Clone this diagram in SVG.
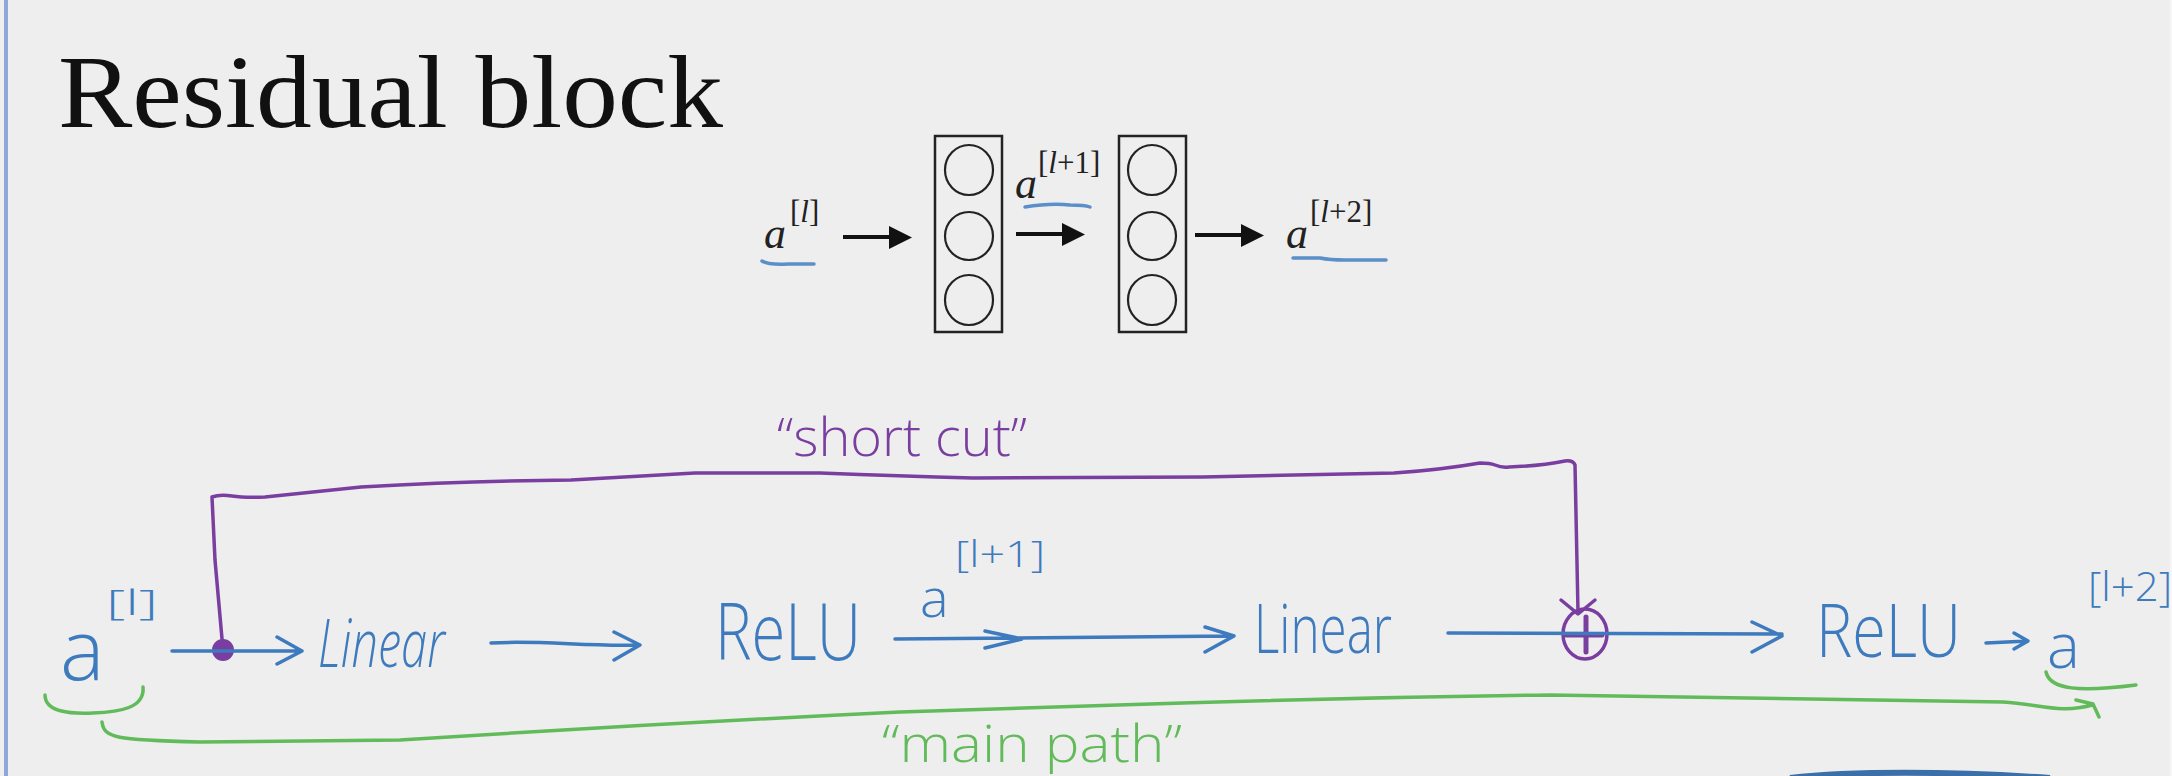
<svg xmlns="http://www.w3.org/2000/svg" width="2172" height="776" viewBox="0 0 2172 776">
<defs>
<style>
.hand{fill:none;stroke-linecap:round;stroke-linejoin:round}
.blue{stroke:#3e7abe;stroke-width:3.5}
.purple{stroke:#7a3ea0;stroke-width:3.5}
.green{stroke:#62bb5a;stroke-width:3.5}
.blk{stroke:#111;stroke-width:4;fill:none}
.head{fill:#111}
.box{fill:none;stroke:#222;stroke-width:2.5}
.neuron{fill:none;stroke:#222;stroke-width:2.2}
.math{font-family:"Liberation Serif",serif;fill:#222}
.ul{fill:none;stroke:#5a8fc8;stroke-width:3.5;stroke-linecap:round}
.ht{font-family:"Open Sans","Liberation Sans",sans-serif;font-weight:300}
.tb{fill:#3e7abe}
.tp{fill:#7a3ea0}
.tg{fill:#62bb5a}
</style>
</defs>
<rect x="0" y="0" width="2172" height="776" fill="#f6f6f6"/>
<rect x="0" y="0" width="2170" height="776" fill="#eeeeee"/>
<line x1="6" y1="0" x2="6" y2="776" stroke="#8ea7d8" stroke-width="4"/>

<g id="title">
<text x="58" y="127" font-family="'Liberation Serif',serif" font-size="104" textLength="665" lengthAdjust="spacingAndGlyphs" fill="#111">Residual block</text>
</g>

<g id="top-a-l">
<text class="math" x="764" y="248" font-size="44" font-style="italic">a</text>
<text class="math" x="790" y="222" font-size="31">[<tspan font-style="italic">l</tspan>]</text>
<path class="ul" d="M762,261 Q768,265 788,264 L814,264"/>
</g>
<g id="top-layer1">
<rect class="box" x="935" y="136" width="67" height="196"/>
<ellipse class="neuron" cx="969" cy="170" rx="24" ry="25"/>
<ellipse class="neuron" cx="969" cy="236" rx="24" ry="24"/>
<ellipse class="neuron" cx="969" cy="300" rx="24" ry="25"/>
</g>
<g id="top-a-l1">
<text class="math" x="1015" y="198" font-size="44" font-style="italic">a</text>
<text class="math" x="1038" y="173" font-size="31">[<tspan font-style="italic">l</tspan>+1]</text>
<path class="ul" d="M1025,207 Q1050,203 1070,205 Q1085,205 1090,207"/>
</g>
<g id="top-layer2">
<rect class="box" x="1119" y="136" width="67" height="196"/>
<ellipse class="neuron" cx="1152" cy="170" rx="24" ry="25"/>
<ellipse class="neuron" cx="1152" cy="236" rx="24" ry="24"/>
<ellipse class="neuron" cx="1152" cy="300" rx="24" ry="25"/>
</g>
<g id="top-a-l2">
<text class="math" x="1286" y="248" font-size="44" font-style="italic">a</text>
<text class="math" x="1310" y="222" font-size="31">[<tspan font-style="italic">l</tspan>+2]</text>
<path class="ul" d="M1293,258 L1320,258 Q1330,260 1345,260 L1386,260"/>
</g>

<g id="hand-a-l">
<text class="ht tb" x="60" y="680" font-size="84">a</text>
<text class="ht tb" x="106" y="615" font-size="34" textLength="52" lengthAdjust="spacingAndGlyphs">[l]</text>
</g>
<g id="hand-linear1">
<text class="ht tb" x="318" y="667" font-size="66" font-style="italic" textLength="127" lengthAdjust="spacingAndGlyphs">Linear</text>
</g>
<g id="hand-relu1">
<text class="ht tb" x="715" y="660" font-size="80" textLength="146" lengthAdjust="spacingAndGlyphs">ReLU</text>
</g>
<g id="hand-a-l1">
<text class="ht tb" x="920" y="617" font-size="54">a</text>
<text class="ht tb" x="955" y="567" font-size="36" textLength="90" lengthAdjust="spacingAndGlyphs">[l+1]</text>
</g>
<g id="hand-linear2">
<text class="ht tb" x="1254" y="653" font-size="68" textLength="138" lengthAdjust="spacingAndGlyphs">Linear</text>
</g>
<g id="hand-plus">
<ellipse cx="1585" cy="634" rx="22" ry="25" fill="none" stroke="#7a3ea0" stroke-width="3.5"/>
<path d="M1566,635 L1602,635 M1586,617 L1586,652" fill="none" stroke="#7a3ea0" stroke-width="5" stroke-linecap="round"/>
</g>
<g id="hand-relu2">
<text class="ht tb" x="1816" y="657" font-size="74" textLength="145" lengthAdjust="spacingAndGlyphs">ReLU</text>
</g>
<g id="hand-a-l2">
<text class="ht tb" x="2047" y="668" font-size="62">a</text>
<text class="ht tb" x="2088" y="601" font-size="40" textLength="84" lengthAdjust="spacingAndGlyphs">[l+2]</text>
</g>
<g id="label-shortcut">
<text class="ht tp" x="777" y="456" font-size="54" textLength="250" lengthAdjust="spacingAndGlyphs">“short cut”</text>
</g>
<g id="label-mainpath">
<text class="ht tg" x="882" y="762" font-size="52" textLength="300" lengthAdjust="spacingAndGlyphs">“main path”</text>
</g>

<g id="connectors">
<line class="blk" x1="843" y1="237" x2="891" y2="237"/>
<path class="head" d="M889,226 L912,237.5 L889,249 Z"/>
<line class="blk" x1="1016" y1="234" x2="1064" y2="234"/>
<path class="head" d="M1062,223 L1085,234.5 L1062,246 Z"/>
<line class="blk" x1="1195" y1="235" x2="1243" y2="235"/>
<path class="head" d="M1241,224 L1264,235.5 L1241,247 Z"/>

<path class="hand purple" d="M223,650 L215,560 L212,497 Q220,494 232,496 Q245,498 265,497 L361,487 Q470,481 571,480 Q640,476 695,473 L820,473 Q900,476 973,478 L1203,477 Q1300,475 1394,473 Q1440,470 1480,463 Q1490,463 1495,465 Q1502,468 1509,467 Q1540,466 1565,461 Q1573,460 1575,465 L1578,612"/>
<path class="hand purple" d="M1561,600 L1578,614 L1595,600"/>
<circle cx="223" cy="650" r="11" fill="#7a3ea0"/>

<path class="hand blue" d="M172,651 L300,651 M277,637 L302,651 L277,664"/>
<path class="hand blue" d="M491,643 C540,640 590,647 640,645 M614,632 L640,645 L614,660"/>
<path class="hand blue" d="M895,639 L1232,636 M985,631 L1022,639 L985,648 M1205,627 L1234,636 L1205,652"/>
<path class="hand blue" d="M1448,633 L1782,634 M1752,622 L1782,636 L1752,652"/>
<path class="hand blue" d="M1986,643 L2028,641 M2014,633 L2028,641 L2014,649"/>

<path class="hand green" d="M45,695 C45,712 70,714 93,713 C120,712 145,708 143,687"/>
<path class="hand green" d="M102,722 C104,738 115,740 200,742 L400,740 Q650,724 900,712 L1118,705 Q1330,698 1550,695 L2003,702 C2040,704 2060,714 2092,705 M2076,700 L2093,704 L2099,717"/>
<path class="hand green" d="M2046,672 C2050,690 2080,692 2136,685"/>

<path d="M1790,778 C1850,771 1950,771 2050,778" fill="none" stroke="#3a6fa8" stroke-width="6"/>
</g>
</svg>
